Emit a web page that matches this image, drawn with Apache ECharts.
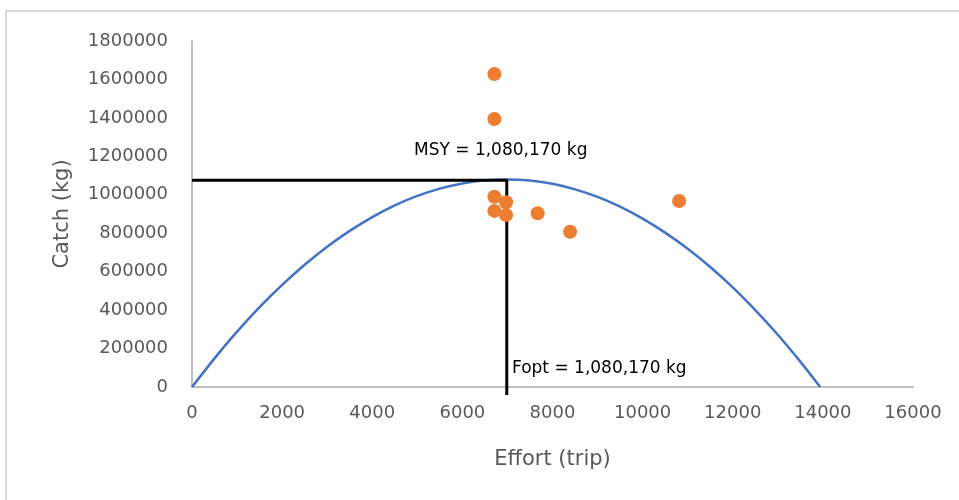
<!DOCTYPE html>
<html>
<head>
<meta charset="utf-8">
<script src="https://cdn.jsdelivr.net/npm/echarts@6/dist/echarts.min.js"></script>
<style>
  html, body { margin: 0; padding: 0; background: #fff; }
  #chart { width: 959px; height: 500px; }
</style>
</head>
<body>
<div id="chart"></div>
<script>
  // observed catch vs effort
  var obsEffort = [6710, 6710, 6710, 6970, 6710, 6970, 7670, 8390, 10810];
  var obsCatch = [1628000, 1394000, 990000, 961000, 916000, 895000, 904000, 808000, 968000];

  // fitted surplus production curve
  var curveEffort = [0, 500, 1000, 1500, 2000, 2500, 3000, 3500, 4000, 4500, 5000, 5500, 6000, 6500, 7000,
    7500, 8000, 8500, 9000, 9500, 10000, 10500, 11000, 11500, 12000, 12500, 13000, 13500, 13940];
  var curveCatch = [0, 149000, 288000, 415000, 531000, 636000, 730000, 812000, 884000, 945000, 994000, 1032000, 1059000, 1075000, 1080000,
    1074000, 1057000, 1028000, 989000, 938000, 876000, 803000, 719000, 624000, 518000, 400000, 272000, 132000, 0];

  // MSY / Fopt guide lines
  var msyValue = 1076000;
  var foptValue = 6985;
  var guideBottom = -42000;

  var msyText = 'MSY = 1,080,170 kg';
  var foptText = 'Fopt = 1,080,170 kg';

  var font = 'DejaVu Sans';
  var grey = '#595959';

  var chart = echarts.init(document.getElementById('chart'));

  var option = {
    backgroundColor: '#fff',
    animation: false,
    textStyle: { fontFamily: font },
    grid: { left: 192, top: 41, width: 721, height: 346 },
    xAxis: {
      type: 'value',
      min: 0,
      max: 16000,
      interval: 2000,
      name: 'Effort (trip)',
      nameLocation: 'middle',
      nameGap: 62,
      nameTextStyle: { color: grey, fontSize: 21, fontFamily: font },
      axisLine: { lineStyle: { color: '#BFBFBF', width: 2 } },
      axisTick: { show: false },
      splitLine: { show: false },
      axisLabel: {
        color: grey, fontSize: 18, margin: 17, fontFamily: font,
        formatter: function (v) { return String(v); }
      }
    },
    yAxis: {
      type: 'value',
      min: 0,
      max: 1800000,
      interval: 200000,
      name: 'Catch (kg)',
      nameLocation: 'middle',
      nameGap: 119,
      nameTextStyle: { color: grey, fontSize: 21, fontFamily: font },
      axisLine: { show: true, lineStyle: { color: '#BFBFBF', width: 2 } },
      axisTick: { show: false },
      splitLine: { show: false },
      axisLabel: {
        color: grey, fontSize: 18, margin: 24, fontFamily: font,
        formatter: function (v) { return String(v); }
      }
    },
    series: [
      {
        type: 'line',
        data: curveEffort.map(function (e, i) { return [e, curveCatch[i]]; }),
        showSymbol: false,
        smooth: 0.2,
        lineStyle: { color: '#4472C4', width: 2.5 },
        z: 2
      },
      {
        type: 'line',
        data: [[0, msyValue], [foptValue, msyValue], [foptValue, guideBottom]],
        showSymbol: false,
        clip: false,
        lineStyle: { color: '#000', width: 3 },
        z: 3
      },
      {
        type: 'scatter',
        data: obsEffort.map(function (e, i) { return [e, obsCatch[i]]; }),
        symbolSize: 14,
        itemStyle: { color: '#ED7D31', opacity: 1 },
        z: 4
      }
    ],
    graphic: [
      {
        type: 'rect',
        shape: { x: 6, y: 11, width: 1000, height: 600 },
        style: { fill: 'none', stroke: '#D9D9D9', lineWidth: 2 },
        silent: true
      },
      {
        type: 'text',
        left: 414,
        top: 142,
        style: { text: msyText, fill: '#000', font: '17px "DejaVu Sans"' }
      },
      {
        type: 'text',
        left: 512,
        top: 360,
        style: { text: foptText, fill: '#000', font: '17px "DejaVu Sans"' }
      }
    ]
  };

  chart.setOption(option);
</script>
</body>
</html>
